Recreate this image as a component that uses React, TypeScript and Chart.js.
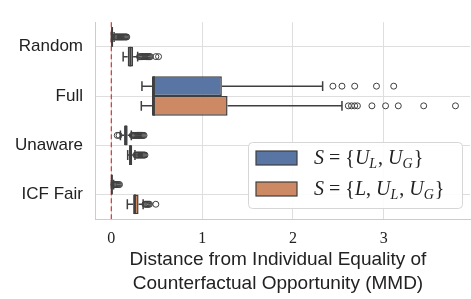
import React, { useEffect, useRef } from 'react';
import { Chart, registerables } from 'chart.js';
Chart.register(...registerables);

const categories = ['Random', 'Full', 'Unaware', 'ICF Fair'];
const xTicks = [0, 1, 2, 3];
const titleLines = ['Distance from Individual Equality of', 'Counterfactual Opportunity (MMD)'];

// [whiskerLow, q1, median, q3, whiskerHigh]
const statsA = [
  [0.0, 0.003, 0.008, 0.016, 0.03],
  [0.337, 0.447, 0.469, 1.217, 2.327],
  [0.1, 0.14, 0.16, 0.18, 0.22],
  [0.0, 0.002, 0.006, 0.012, 0.025],
];
const statsB = [
  [0.13, 0.18, 0.21, 0.24, 0.29],
  [0.33, 0.447, 0.469, 1.28, 2.54],
  [0.18, 0.195, 0.21, 0.23, 0.26],
  [0.176, 0.24, 0.26, 0.3, 0.35],
];
const outliersA = [
  [0.04, 0.05, 0.06, 0.07, 0.08, 0.09, 0.1, 0.11, 0.12, 0.13, 0.14, 0.15, 0.16, 0.17],
  [2.44, 2.54, 2.68, 2.92, 3.11],
  [0.065, 0.085, 0.23, 0.24, 0.25, 0.26, 0.27, 0.28, 0.29, 0.3, 0.31, 0.32, 0.33, 0.34, 0.35, 0.36],
  [0.03, 0.04, 0.05, 0.06, 0.07, 0.08, 0.09],
];
const outliersB = [
  [0.31, 0.32, 0.33, 0.34, 0.35, 0.36, 0.37, 0.38, 0.39, 0.4, 0.41, 0.42, 0.43, 0.49, 0.52],
  [2.61, 2.645, 2.68, 2.71, 2.87, 3.02, 3.16, 3.44, 3.79],
  [0.27, 0.28, 0.29, 0.3, 0.31, 0.32, 0.33, 0.34, 0.35, 0.36, 0.37],
  [0.37, 0.38, 0.39, 0.4, 0.41, 0.42, 0.49],
];

const BLUE = '#5975a4';
const ORANGE = '#cc8963';
const EDGE = '#3f3f3f';
const GRID = '#dedede';
const SPINE = '#cccccc';

const allStats = [statsA, statsB];
const allOutliers = [outliersA, outliersB];

type Part = { t: string; s: 'i' | 'r' | 'sub' };
const legendItems: { color: string; parts: Part[] }[] = [
  {
    color: BLUE,
    parts: [
      { t: 'S', s: 'i' }, { t: ' = ', s: 'r' }, { t: '{', s: 'r' },
      { t: 'U', s: 'i' }, { t: 'L', s: 'sub' }, { t: ', ', s: 'r' },
      { t: 'U', s: 'i' }, { t: 'G', s: 'sub' }, { t: '}', s: 'r' },
    ],
  },
  {
    color: ORANGE,
    parts: [
      { t: 'S', s: 'i' }, { t: ' = ', s: 'r' }, { t: '{', s: 'r' },
      { t: 'L', s: 'i' }, { t: ', ', s: 'r' },
      { t: 'U', s: 'i' }, { t: 'L', s: 'sub' }, { t: ', ', s: 'r' },
      { t: 'U', s: 'i' }, { t: 'G', s: 'sub' }, { t: '}', s: 'r' },
    ],
  },
];

const boxPlugin = {
  id: 'boxExtras',
  beforeDatasetsDraw(chart: any) {
    const { ctx, chartArea, scales } = chart;
    const px = scales.x.getPixelForValue(0);
    ctx.save();
    ctx.strokeStyle = 'rgba(225,45,45,0.9)';
    ctx.lineWidth = 1.3;
    ctx.setLineDash([5, 3]);
    ctx.beginPath();
    ctx.moveTo(px, chartArea.top);
    ctx.lineTo(px, chartArea.bottom);
    ctx.stroke();
    ctx.restore();
  },
  afterDatasetsDraw(chart: any) {
    const { ctx, scales } = chart;
    const X = (v: number) => scales.x.getPixelForValue(v);
    ctx.save();
    allStats.forEach((stats, di) => {
      const meta = chart.getDatasetMeta(di);
      meta.data.forEach((bar: any, i: number) => {
        const y = bar.y;
        const h = bar.height;
        const [wl, q1, med, q3, wh] = stats[i];
        ctx.strokeStyle = EDGE;
        ctx.lineWidth = 1.5;
        ctx.beginPath();
        ctx.moveTo(X(wl), y); ctx.lineTo(X(q1), y);
        ctx.moveTo(X(q3), y); ctx.lineTo(X(wh), y);
        ctx.moveTo(X(wl), y - h / 4); ctx.lineTo(X(wl), y + h / 4);
        ctx.moveTo(X(wh), y - h / 4); ctx.lineTo(X(wh), y + h / 4);
        ctx.stroke();
        ctx.lineWidth = 2;
        ctx.beginPath();
        ctx.moveTo(X(med), y - h / 2); ctx.lineTo(X(med), y + h / 2);
        ctx.stroke();
        ctx.lineWidth = 1;
        allOutliers[di][i].forEach((v) => {
          ctx.beginPath();
          ctx.arc(X(v), y, 3, 0, Math.PI * 2);
          ctx.stroke();
        });
      });
    });
    ctx.restore();
  },
  afterDraw(chart: any) {
    const { ctx } = chart;
    ctx.save();
    ctx.fillStyle = '#222';
    ctx.font = '19px "Liberation Sans"';
    ctx.textAlign = 'center';
    ctx.textBaseline = 'middle';
    const cx = 278;
    ctx.fillText(titleLines[0], cx, 260);
    ctx.fillText(titleLines[1], cx, 284);
    const lx = 248, ly = 142, lw = 214, lh = 66;
    ctx.fillStyle = 'rgba(255,255,255,0.9)';
    ctx.strokeStyle = '#d6d6d6';
    ctx.lineWidth = 1;
    ctx.beginPath();
    (ctx as any).roundRect(lx + 0.5, ly + 0.5, lw, lh, 4);
    ctx.fill();
    ctx.stroke();
    legendItems.forEach((item, k) => {
      const cy = 158 + k * 31;
      ctx.fillStyle = item.color;
      ctx.strokeStyle = EDGE;
      ctx.lineWidth = 1.2;
      ctx.fillRect(256, cy - 7, 41, 14);
      ctx.strokeRect(256, cy - 7, 41, 14);
      let tx = 314;
      const base = cy + 6;
      ctx.fillStyle = '#222';
      ctx.textAlign = 'left';
      ctx.textBaseline = 'alphabetic';
      item.parts.forEach((p) => {
        if (p.s === 'i') ctx.font = 'italic 20px "Liberation Serif"';
        else if (p.s === 'r') ctx.font = '20px "Liberation Serif"';
        else ctx.font = 'italic 14px "Liberation Serif"';
        const yy = p.s === 'sub' ? base + 4 : base;
        ctx.fillText(p.t, tx, yy);
        tx += ctx.measureText(p.t).width + (p.s === 'sub' ? 1 : 0);
      });
    });
    ctx.restore();
  },
};

export default function App() {
  const ref = useRef<HTMLCanvasElement>(null);
  useEffect(() => {
    const chart = new Chart(ref.current as HTMLCanvasElement, {
      type: 'bar',
      data: {
        labels: categories,
        datasets: [
          {
            label: 'A',
            data: statsA.map((s) => [s[1], s[3]]) as any,
            backgroundColor: BLUE,
            borderColor: EDGE,
            borderWidth: 1.5,
            borderSkipped: false,
            categoryPercentage: 0.8,
            barPercentage: 1,
          },
          {
            label: 'B',
            data: statsB.map((s) => [s[1], s[3]]) as any,
            backgroundColor: ORANGE,
            borderColor: EDGE,
            borderWidth: 1.5,
            borderSkipped: false,
            categoryPercentage: 0.8,
            barPercentage: 1,
          },
        ],
      },
      options: {
        indexAxis: 'y',
        responsive: false,
        animation: false,
        layout: { padding: { top: 9, right: 1, left: 0, bottom: 0 } },
        plugins: { legend: { display: false }, tooltip: { enabled: false } },
        scales: {
          x: {
            type: 'linear',
            min: -0.18,
            max: 3.95,
            afterBuildTicks: (scale: any) => {
              scale.ticks = xTicks.map((v) => ({ value: v }));
            },
            afterFit: (scale: any) => {
              scale.height = 80;
            },
            grid: { color: GRID, drawTicks: false },
            border: { color: SPINE },
            ticks: {
              padding: 10,
              color: '#222',
              font: { family: '"Liberation Serif"', size: 16 },
              callback: (v: any) => String(v),
            },
          },
          y: {
            type: 'category',
            afterFit: (scale: any) => {
              scale.width = 95;
            },
            grid: { color: GRID, drawTicks: false, offset: false },
            border: { color: SPINE },
            ticks: {
              padding: 12,
              color: '#222',
              font: { family: '"Liberation Sans"', size: 17 },
            },
          },
        },
      },
      plugins: [boxPlugin],
    } as any);
    return () => chart.destroy();
  }, []);
  return (
    <div style={{ position: 'absolute', left: 0, top: 0, width: 471, height: 299, background: '#fff' }}>
      <canvas ref={ref} width={471} height={299} style={{ display: 'block', width: 471, height: 299 }} />
    </div>
  );
}
